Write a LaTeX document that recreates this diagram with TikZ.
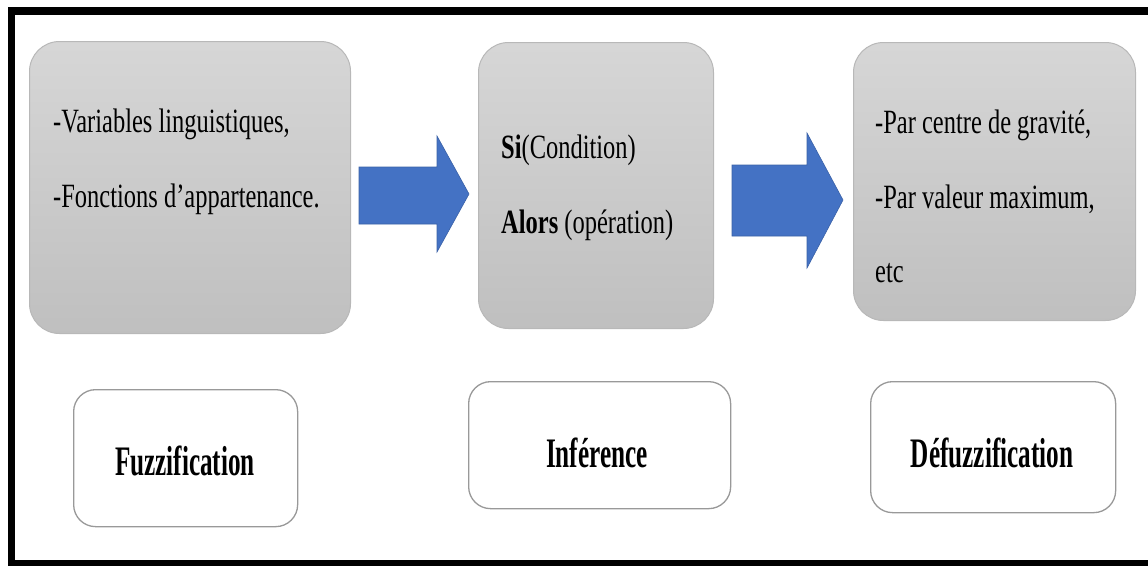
\documentclass[tikz,border=0pt]{standalone}
\usepackage{fontspec}
\setmainfont{Liberation Serif}
\newfontfamily\bodyfont[FakeStretch=0.72]{Liberation Serif}
\newfontfamily\titlefont[FakeStretch=0.6]{Liberation Serif}
\definecolor{arrowblue}{HTML}{4472C4}
\begin{document}
\begin{tikzpicture}[x=1pt,y=-1pt,
  stage/.style={draw=black!28, line width=1pt, rounded corners=30pt,
    top color=black!16, bottom color=black!25, anchor=north west, inner sep=0pt},
  tag/.style={draw=black!40, line width=1.3pt, fill=white, rounded corners=22pt,
    anchor=north west, inner sep=0pt},
  line/.style={anchor=base west, inner sep=0pt, font=\bodyfont\fontsize{34}{40}\selectfont},
  title/.style={anchor=base, inner sep=0pt, font=\titlefont\bfseries\fontsize{42}{50}\selectfont},
  flow/.style={fill=arrowblue, draw=arrowblue!85!black, line width=0.6pt}]
\useasboundingbox (0,0) rectangle (1148,565);
\fill[white] (0,0) rectangle (1148,565);
\begin{scope}
  \clip (0,0) rectangle (1148,565);
  % outer frame
  \draw[line width=7.5pt] (11.5,11) rectangle (1160,563.5);
\end{scope}

% process stages
\node[stage, minimum width=321pt, minimum height=292pt] (fuzz) at (29,41) {};
\node[stage, minimum width=235pt, minimum height=286pt] (inf) at (478,42) {};
\node[stage, minimum width=282pt, minimum height=278pt] (defuzz) at (853,42) {};

\node[line] (f1) at (53,132) {-Variables linguistiques,};
\node[line] (f2) at (53,207) {-Fonctions d’appartenance.};

\node[line] (i1) at (501,158) {\textbf{Si}(Condition)};
\node[line] (i2) at (501,233) {\textbf{Alors} (opération)};

\node[line] (d1) at (875,133) {-Par centre de gravité,};
\node[line] (d2) at (875,208) {-Par valeur maximum,};
\node[line] (d3) at (875,282) {etc};

% block arrows between the stages
\draw[flow] (359,167) -- (437,167) -- (437,136) -- (469,194) -- (437,252)
  -- (437,224) -- (359,224) -- cycle;
\draw[flow] (732,165) -- (807,165) -- (807,133) -- (843,200) -- (807,268)
  -- (807,236) -- (732,236) -- cycle;

% stage names
\node[tag, minimum width=224pt, minimum height=137pt] (tfuzz) at (73,389) {};
\node[tag, minimum width=262pt, minimum height=127pt] (tinf) at (468,381) {};
\node[tag, minimum width=245pt, minimum height=131pt] (tdefuzz) at (870,381) {};

\node[title] (nfuzz) at (185,475) {Fuzzification};
\node[title] (ninf) at (597,467) {Inférence};
\node[title] (ndefuzz) at (992,467) {Défuzzification};
\end{tikzpicture}
\end{document}
